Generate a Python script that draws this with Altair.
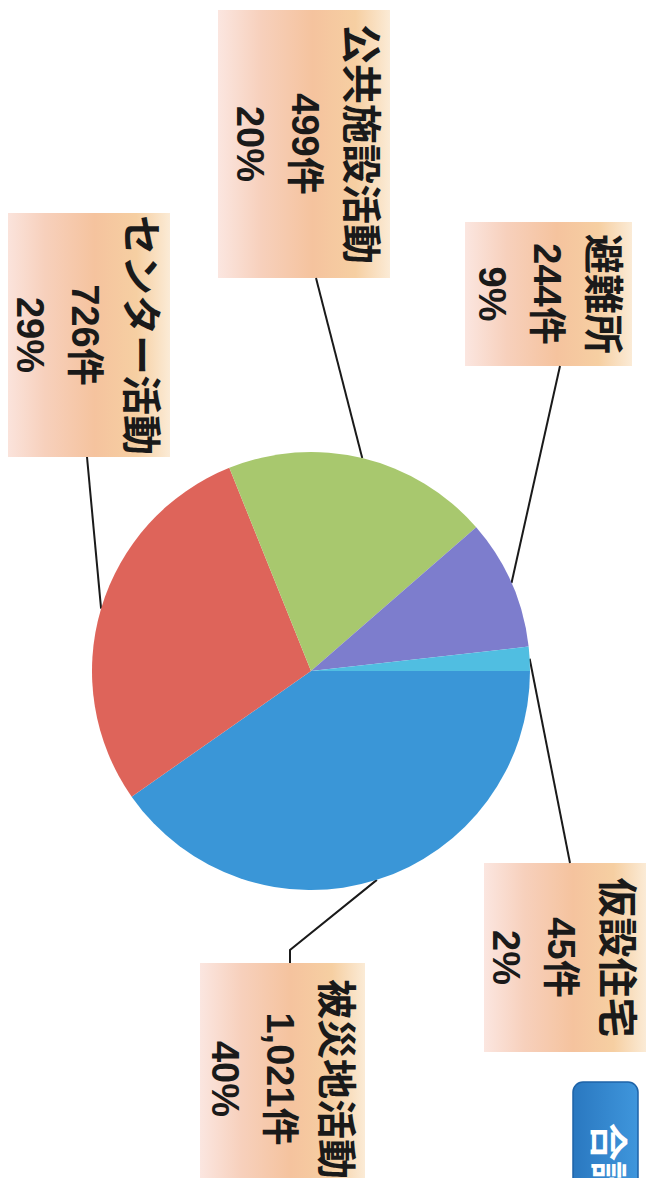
import math
import altair as alt
import pandas as pd

# ---------------- data ----------------
categories = ["被災地活動", "センター活動", "公共施設活動", "避難所", "仮設住宅"]
counts = [1021, 726, 499, 244, 45]
count_labels = ["1,021件", "726件", "499件", "244件", "45件"]
percent_labels = ["40%", "29%", "20%", "9%", "2%"]
colors = ["#3A96D7", "#DE645A", "#A8C86E", "#7D7DCD", "#50BEE1"]

# ---------------- layout (page pixels) ----------------
W, H = 640, 1170
M = 8  # page margin
CX, CY, R = 311, 671, 219          # pie centre / radius
START = math.pi / 2                 # first slice starts at 3 o'clock
# label boxes: x0, x1, y0, y1
boxes = {
    "被災地活動": (200, 365, 963, 1195),
    "センター活動": (3, 170, 213, 457),
    "公共施設活動": (218, 390, 10, 278),
    "避難所": (465, 632, 222, 366),
    "仮設住宅": (484, 646, 863, 1052),
}
# leader line points after the point on the pie edge
leader_tail = {
    "被災地活動": [(290, 950), (290, 963)],
    "センター活動": [(87, 457)],
    "公共施設活動": [(316, 278)],
    "避難所": [(560, 366)],
    "仮設住宅": [(570, 863)],
}
LINE_OFF = [31, 87, 142]  # text line offsets from the box's right edge
TITLE_FONT = "Noto Sans CJK JP"
NUM_FONT = "'Liberation Sans', 'Noto Sans CJK JP'"


def px(v):
    return v - M


total = sum(counts)
pie_df = pd.DataFrame({
    "category": categories,
    "count": counts,
    "idx": list(range(len(categories))),
    "cx": [px(CX)] * len(categories),
    "cy": [px(CY)] * len(categories),
})

# boxes / texts / leader lines
box_rows, title_rows, num_rows, line_rows = [], [], [], []
cum = 0
for i, cat in enumerate(categories):
    x0, x1, y0, y1 = boxes[cat]
    box_rows.append({"category": cat, "x0": px(x0), "x1": px(x1), "y0": px(y0), "y1": px(y1)})
    yc = (y0 + y1) / 2
    title_rows.append({"t": cat, "x": px(x1 - LINE_OFF[0]), "y": px(yc)})
    num_rows.append({"t": count_labels[i], "x": px(x1 - LINE_OFF[1]), "y": px(yc)})
    num_rows.append({"t": percent_labels[i], "x": px(x1 - LINE_OFF[2]), "y": px(yc)})
    mid = START + 2 * math.pi * (cum + counts[i] / 2) / total
    cum += counts[i]
    pts = [(CX + R * math.sin(mid), CY - R * math.cos(mid))] + leader_tail[cat]
    for k, (lx, ly) in enumerate(pts):
        line_rows.append({"category": cat, "o": k, "x": px(lx), "y": px(ly)})

box_df = pd.DataFrame(box_rows)
title_df = pd.DataFrame(title_rows)
num_df = pd.DataFrame(num_rows)
line_df = pd.DataFrame(line_rows)
total_df = pd.DataFrame({"t": ["合計"], "x0": [px(573)], "x1": [px(638)], "y0": [px(1082)],
                         "y1": [px(1215)], "tx": [px(606)], "ty": [px(1123)]})

xs = alt.Scale(domain=[0, W], range=[0, W])
ys = alt.Scale(domain=[0, H], range=[0, H])

pie = alt.Chart(pie_df).mark_arc(radius=R).encode(
    theta=alt.Theta("count:Q", stack=True, scale=alt.Scale(range=[START, START + 2 * math.pi])),
    order=alt.Order("idx:Q"),
    color=alt.Color("category:N", scale=alt.Scale(domain=categories, range=colors), legend=None),
    x=alt.X("cx:Q", scale=xs, axis=None),
    y=alt.Y("cy:Q", scale=ys, axis=None),
)

lines = alt.Chart(line_df).mark_line(color="#1a1a1a", strokeWidth=2).encode(
    x=alt.X("x:Q", scale=xs, axis=None),
    y=alt.Y("y:Q", scale=ys, axis=None),
    detail="category:N",
    order="o:Q",
)

peach = alt.LinearGradient(
    gradient="linear", x1=0, x2=1, y1=0, y2=0,
    stops=[
        alt.GradientStop(color="#FBE6E0", offset=0),
        alt.GradientStop(color="#F7D0BC", offset=0.25),
        alt.GradientStop(color="#F5C39E", offset=0.55),
        alt.GradientStop(color="#F6CFA2", offset=0.8),
        alt.GradientStop(color="#FBEBD6", offset=1),
    ],
)

boxes_layer = alt.Chart(box_df).mark_rect(fill=peach).encode(
    x=alt.X("x0:Q", scale=xs, axis=None), x2="x1:Q",
    y=alt.Y("y0:Q", scale=ys, axis=None), y2="y1:Q",
)

titles = alt.Chart(title_df).mark_text(
    angle=90, align="center", baseline="middle", font=TITLE_FONT, fontWeight="bold",
    color="#1a1a1a", fontSize=40
).encode(
    x=alt.X("x:Q", scale=xs, axis=None),
    y=alt.Y("y:Q", scale=ys, axis=None),
    text="t:N",
)

nums = alt.Chart(num_df).mark_text(
    angle=90, align="center", baseline="middle", font=NUM_FONT, fontWeight="bold",
    color="#1a1a1a", fontSize=38
).encode(
    x=alt.X("x:Q", scale=xs, axis=None),
    y=alt.Y("y:Q", scale=ys, axis=None),
    text="t:N",
)

blue_grad = alt.LinearGradient(
    gradient="linear", x1=0, x2=1, y1=0, y2=0,
    stops=[alt.GradientStop(color="#2A78C0", offset=0), alt.GradientStop(color="#3F96DC", offset=1)],
)
total_box = alt.Chart(total_df).mark_rect(fill=blue_grad, stroke="#1E63A8", strokeWidth=1.5,
                                          cornerRadius=10).encode(
    x=alt.X("x0:Q", scale=xs, axis=None), x2="x1:Q",
    y=alt.Y("y0:Q", scale=ys, axis=None), y2="y1:Q",
)
total_text = alt.Chart(total_df).mark_text(
    angle=90, align="left", baseline="middle", font=TITLE_FONT, fontWeight="bold",
    color="white", fontSize=38
).encode(
    x=alt.X("tx:Q", scale=xs, axis=None),
    y=alt.Y("ty:Q", scale=ys, axis=None),
    text="t:N",
)

chart = alt.layer(boxes_layer, lines, pie, titles, nums, total_box, total_text).properties(
    width=W, height=H, padding=0, autosize=alt.AutoSizeParams(type="none"),
    background="white",
).configure_view(stroke=None)

chart.save("out.html", embed_options={"renderer": "svg", "actions": False})
